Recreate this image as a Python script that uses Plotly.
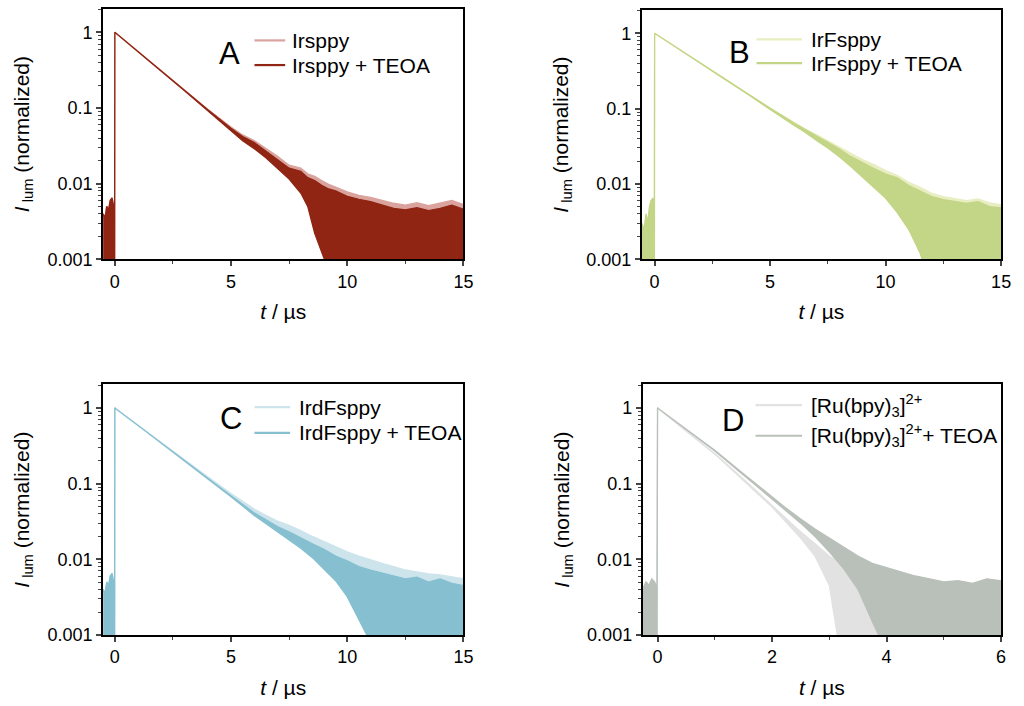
import plotly.graph_objects as go

# ---------------- DATA ----------------
# Each series: time grid (µs), upper and lower envelope of the noisy decay trace (normalized intensity)
# Panel A
tA = [-0.5, -0.42, -0.35, -0.27, -0.2, -0.12, -0.05, -0.01, 0.0,
      1, 2, 3, 4, 5, 5.5, 6, 6.5, 7, 7.5, 8, 8.3, 8.6, 8.9, 9.2, 9.5,
      10, 10.5, 11, 11.5, 12, 12.5, 13, 13.5, 14, 14.5, 15]
A_teoa_up = [0.004, 0.0035, 0.005, 0.0045, 0.006, 0.0065, 0.005, 0.004, 1.0,
             0.553, 0.306, 0.169, 0.095, 0.054, 0.042, 0.035, 0.027, 0.021, 0.016, 0.0145, 0.012,
             0.011, 0.0095, 0.0085, 0.008, 0.0068, 0.0062, 0.0058, 0.0052, 0.0047, 0.0045,
             0.0048, 0.0044, 0.0047, 0.0052, 0.0046]
A_teoa_lo = [0.0003, 0.0003, 0.0003, 0.0003, 0.0003, 0.0003, 0.0003, 0.0003, 1.0,
             0.553, 0.306, 0.169, 0.093, 0.050, 0.037, 0.029, 0.022, 0.016, 0.0115, 0.0075, 0.005,
             0.0022, 0.0012, 0.0007, 0.0004, 0.0003, 0.0003, 0.0003, 0.0003, 0.0003, 0.0003,
             0.0003, 0.0003, 0.0003, 0.0003, 0.0003]
A_ref_up = [0.004, 0.0035, 0.005, 0.0045, 0.006, 0.0065, 0.005, 0.004, 1.0,
            0.553, 0.306, 0.170, 0.096, 0.056, 0.044, 0.037, 0.029, 0.023, 0.0175, 0.016, 0.0135,
            0.0125, 0.011, 0.0098, 0.009, 0.0078, 0.007, 0.0066, 0.006, 0.0055, 0.0052,
            0.0056, 0.0051, 0.0055, 0.006, 0.0053]
A_ref_lo = [0.0003, 0.0003, 0.0003, 0.0003, 0.0003, 0.0003, 0.0003, 0.0003, 1.0,
            0.553, 0.306, 0.169, 0.094, 0.052, 0.039, 0.031, 0.024, 0.018, 0.013, 0.009, 0.006,
            0.003, 0.0015, 0.0009, 0.0005, 0.0003, 0.0003, 0.0003, 0.0003, 0.0003, 0.0003,
            0.0003, 0.0003, 0.0003, 0.0003, 0.0003]

# Panel B
tB = [-0.55, -0.45, -0.37, -0.3, -0.22, -0.15, -0.07, -0.01, 0.0,
      1, 2, 3, 4, 5, 6, 6.5, 7, 7.5, 8, 8.5, 9, 9.5, 10, 10.5, 11, 11.5,
      12, 12.5, 13, 13.5, 14, 14.5, 15]
B_teoa_up = [0.003, 0.0025, 0.004, 0.003, 0.005, 0.006, 0.0065, 0.005, 1.0,
             0.63, 0.40, 0.25, 0.159, 0.101, 0.065, 0.053, 0.043, 0.035, 0.029, 0.023, 0.019,
             0.016, 0.0135, 0.012, 0.0095, 0.008, 0.0068, 0.0062, 0.0058, 0.0055, 0.0058,
             0.005, 0.0048]
B_teoa_lo = [0.0003, 0.0003, 0.0003, 0.0003, 0.0003, 0.0003, 0.0003, 0.0003, 1.0,
             0.63, 0.40, 0.25, 0.157, 0.099, 0.061, 0.049, 0.038, 0.030, 0.023, 0.017, 0.0125,
             0.009, 0.0065, 0.0042, 0.0025, 0.0012, 0.0004, 0.0003, 0.0003, 0.0003, 0.0003,
             0.0003, 0.0003]
B_ref_up = [0.003, 0.0025, 0.004, 0.003, 0.005, 0.006, 0.0065, 0.005, 1.0,
            0.63, 0.40, 0.25, 0.16, 0.102, 0.066, 0.054, 0.045, 0.037, 0.031, 0.025, 0.021,
            0.018, 0.015, 0.013, 0.0105, 0.009, 0.0075, 0.0068, 0.0064, 0.006, 0.0063,
            0.0056, 0.0053]
B_ref_lo = B_teoa_lo

# Panel C
tC = [-0.5, -0.42, -0.35, -0.27, -0.2, -0.12, -0.05, -0.01, 0.0,
      1, 2, 3, 4, 5, 6, 6.5, 7, 7.5, 8, 8.5, 9, 9.5, 10, 10.5, 11, 11.5,
      12, 12.5, 13, 13.5, 14, 14.5, 15]
C_teoa_up = [0.004, 0.0035, 0.005, 0.0045, 0.006, 0.0065, 0.005, 0.004, 1.0,
             0.584, 0.341, 0.200, 0.118, 0.069, 0.041, 0.033, 0.027, 0.023, 0.019, 0.016, 0.0135,
             0.011, 0.0095, 0.008, 0.0072, 0.0066, 0.006, 0.0055, 0.0058, 0.005, 0.0055,
             0.0048, 0.0045]
C_teoa_lo = [0.0003, 0.0003, 0.0003, 0.0003, 0.0003, 0.0003, 0.0003, 0.0003, 1.0,
             0.584, 0.341, 0.198, 0.116, 0.067, 0.038, 0.030, 0.023, 0.018, 0.014, 0.0105, 0.0075,
             0.0052, 0.0032, 0.0016, 0.0008, 0.0003, 0.0003, 0.0003, 0.0003, 0.0003, 0.0003,
             0.0003, 0.0003]
C_ref_up = [0.004, 0.0035, 0.005, 0.0045, 0.006, 0.0065, 0.005, 0.004, 1.0,
            0.59, 0.35, 0.205, 0.123, 0.074, 0.046, 0.038, 0.032, 0.028, 0.024, 0.020, 0.017,
            0.0145, 0.0125, 0.011, 0.0098, 0.0088, 0.008, 0.0072, 0.0068, 0.0064, 0.0062,
            0.0058, 0.0055]
C_ref_lo = [0.0003, 0.0003, 0.0003, 0.0003, 0.0003, 0.0003, 0.0003, 0.0003, 1.0,
            0.59, 0.35, 0.203, 0.121, 0.072, 0.043, 0.035, 0.028, 0.024, 0.019, 0.015, 0.012,
            0.0095, 0.0075, 0.0058, 0.0045, 0.0035, 0.0028, 0.0022, 0.0018, 0.0015, 0.0012,
            0.001, 0.0008]

# Panel D
tD = [-0.26, -0.2, -0.15, -0.1, -0.05, -0.01, 0.0,
      0.5, 1, 1.5, 2, 2.25, 2.5, 2.75, 3, 3.25, 3.5, 3.75, 4, 4.25, 4.5, 4.75,
      5, 5.25, 5.5, 5.75, 6]
D_teoa_up = [0.004, 0.005, 0.0045, 0.0055, 0.005, 0.004, 1.0,
             0.53, 0.275, 0.135, 0.066, 0.047, 0.034, 0.025, 0.019, 0.0145, 0.011, 0.0088,
             0.0078, 0.0068, 0.006, 0.0055, 0.005, 0.0052, 0.0048, 0.0055, 0.0052]
D_teoa_lo = [0.0003, 0.0003, 0.0003, 0.0003, 0.0003, 0.0003, 1.0,
             0.52, 0.27, 0.13, 0.062, 0.043, 0.030, 0.020, 0.0125, 0.0075, 0.004, 0.0015,
             0.0006, 0.0003, 0.0003, 0.0003, 0.0003, 0.0003, 0.0003, 0.0003, 0.0003]
D_ref_up = [0.004, 0.005, 0.0045, 0.0055, 0.005, 0.004, 1.0,
            0.50, 0.25, 0.115, 0.052, 0.035, 0.023, 0.016, 0.011, 0.0082, 0.0068, 0.006,
            0.0055, 0.005, 0.0048, 0.0045, 0.0042, 0.0045, 0.004, 0.0045, 0.0042]
D_ref_lo = [0.0003, 0.0003, 0.0003, 0.0003, 0.0003, 0.0003, 1.0,
            0.49, 0.245, 0.11, 0.049, 0.031, 0.019, 0.011, 0.0045, 0.0003, 0.0003, 0.0003,
            0.0003, 0.0003, 0.0003, 0.0003, 0.0003, 0.0003, 0.0003, 0.0003, 0.0003]

panel_letters = ["A", "B", "C", "D"]
names = [["Irsppy", "Irsppy + TEOA"],
         ["IrFsppy", "IrFsppy + TEOA"],
         ["IrdFsppy", "IrdFsppy + TEOA"],
         ["[Ru(bpy)<sub>3</sub>]<sup>2+</sup>", "[Ru(bpy)<sub>3</sub>]<sup>2+</sup>+ TEOA"]]
colors = [["#dba39d", "#8f2512"],
          ["#e9eec2", "#c3d586"],
          ["#cde4ec", "#86c0d0"],
          ["#e2e2e2", "#b9c0b9"]]
y_ticks = [0.001, 0.01, 0.1, 1]
y_ticklabels = ["0.001", "0.01", "0.1", "1"]

series = [
    (tA, (A_ref_up, A_ref_lo), (A_teoa_up, A_teoa_lo)),
    (tB, (B_ref_up, B_ref_lo), (B_teoa_up, B_teoa_lo)),
    (tC, (C_ref_up, C_ref_lo), (C_teoa_up, C_teoa_lo)),
    (tD, (D_ref_up, D_ref_lo), (D_teoa_up, D_teoa_lo)),
]

# ---------------- LAYOUT ----------------
W, H = 1024, 706
boxes = [  # left, right, top, bottom in px
    (104, 468, 9, 263),
    (648, 1011, 10, 263),
    (104, 468, 390, 644),
    (649, 1011, 390, 644),
]
x_ranges = [[-0.51, 15], [-0.56, 15], [-0.51, 15], [-0.26, 6]]
x_ticks = [[0, 5, 10, 15], [0, 5, 10, 15], [0, 5, 10, 15], [0, 2, 4, 6]]
x_minor = [[2.5, 7.5, 12.5], [2.5, 7.5, 12.5], [2.5, 7.5, 12.5], [1, 3, 5]]
# legend sample: (line x0, line x1, text x, row1 y, row2 y) in px
legend_geom = [(257, 288, 293, 41, 66),
               (764, 810, 817, 40, 64),
               (257, 293, 300, 413, 439),
               (763, 810, 817, 411, 442)]
letter_pos = [(232, 54), (747, 53), (233, 425), (740, 427)]

y_minor = []
for d in [0.001, 0.01, 0.1, 1]:
    for k in range(2, 10):
        y_minor.append(d * k)

FONT = "Liberation Sans, Arial, sans-serif"
fig = go.Figure()
lay = {}
annotations = []
shapes = []
for i, (t, ref, teoa) in enumerate(series):
    n = i + 1
    xa = "x" if n == 1 else f"x{n}"
    ya = "y" if n == 1 else f"y{n}"
    for j, (up, lo) in enumerate([ref, teoa]):
        fig.add_trace(go.Scatter(
            x=list(t) + list(t)[::-1], y=list(up) + list(lo)[::-1],
            mode="lines", fill="toself", fillcolor=colors[i][j],
            line=dict(color=colors[i][j], width=1.3), name=names[i][j],
            xaxis=xa, yaxis=ya, showlegend=False, hoverinfo="skip"))
    l, r, tp, bt = boxes[i]
    xk = "xaxis" if n == 1 else f"xaxis{n}"
    yk = "yaxis" if n == 1 else f"yaxis{n}"
    lay[xk] = dict(domain=[l / W, r / W], anchor=ya, range=x_ranges[i],
                   tickvals=x_ticks[i], ticks="outside", ticklen=5, tickwidth=1.5,
                   showline=True, linewidth=1.8, linecolor="black", mirror=True,
                   showgrid=False, zeroline=False, ticklabeloverflow="allow",
                   tickfont=dict(size=18, color="black", family=FONT),
                   minor=dict(tickvals=x_minor[i], ticks="outside", ticklen=3,
                              tickwidth=1.2, showgrid=False),
                   title=dict(text="<i>t</i> / µs", font=dict(size=21, color="black", family=FONT),
                              standoff=14))
    lay[yk] = dict(domain=[1 - bt / H, 1 - tp / H], anchor=xa, type="log",
                   range=[-3, 0.31], tickvals=y_ticks, ticktext=y_ticklabels,
                   ticks="outside", ticklen=5, tickwidth=1.5,
                   showline=True, linewidth=1.8, linecolor="black", mirror=True,
                   showgrid=False, zeroline=False,
                   tickfont=dict(size=18, color="black", family=FONT),
                   minor=dict(tickvals=y_minor, ticks="outside", ticklen=3,
                              tickwidth=1, showgrid=False),
                   title=dict(text="<i>I</i><sub> lum</sub> (normalized)",
                              font=dict(size=21, color="black", family=FONT), standoff=12))
    # legend (line samples + labels)
    lx0, lx1, tx, r1, r2 = legend_geom[i]
    for j, ry in enumerate([r1, r2]):
        shapes.append(dict(type="line", xref="paper", yref="paper",
                           x0=lx0 / W, x1=lx1 / W, y0=1 - ry / H, y1=1 - ry / H,
                           line=dict(color=colors[i][j], width=2.2)))
        annotations.append(dict(text=names[i][j], x=tx / W, y=1 - ry / H,
                                xref="paper", yref="paper", xanchor="left", yanchor="middle",
                                showarrow=False,
                                font=dict(size=21, color="black", family=FONT)))
    px, py = letter_pos[i]
    annotations.append(dict(text=panel_letters[i], x=px / W, y=1 - py / H, xref="paper", yref="paper",
                            xanchor="center", yanchor="middle", showarrow=False,
                            font=dict(size=31, color="black", family=FONT)))

fig.update_layout(width=W, height=H, margin=dict(l=0, r=0, t=0, b=0),
                  paper_bgcolor="white", plot_bgcolor="white", showlegend=False,
                  annotations=annotations, shapes=shapes, **lay)

fig.write_html("out.html", config={"displayModeBar": False},
               post_script="document.body.style.margin='0';document.body.style.overflow='hidden';")
